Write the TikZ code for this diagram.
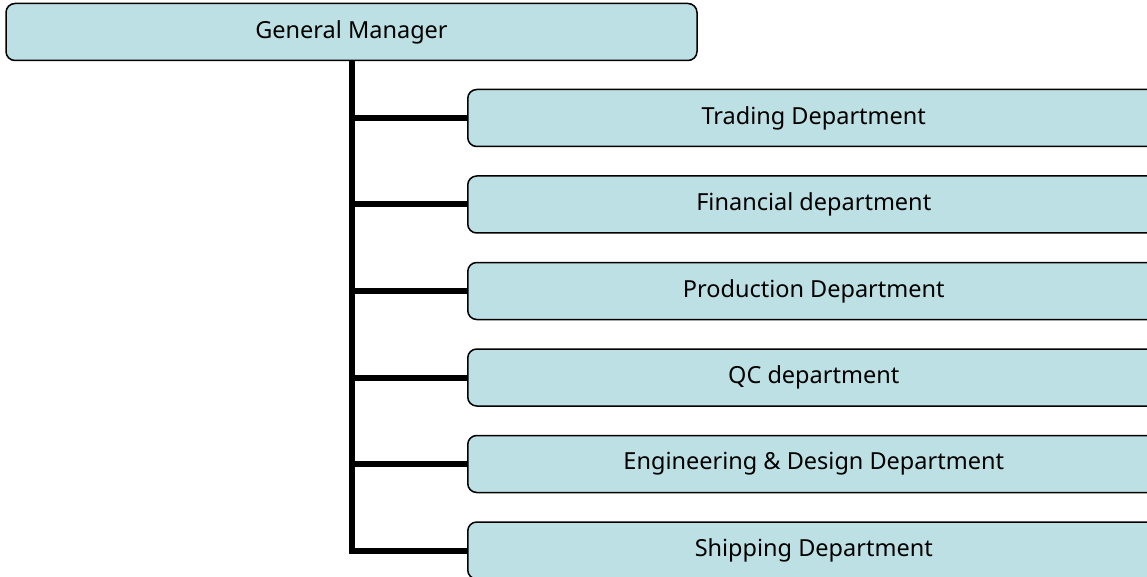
\documentclass[tikz,border=0pt]{standalone}
\usepackage{fontspec}
\setmainfont{Noto Sans}
\usetikzlibrary{positioning}

\definecolor{boxfill}{HTML}{BCE0E3}

\tikzset{
    unit/.style={draw=black, line width=1.5pt, fill=boxfill, rounded corners=9pt,
        minimum height=57pt, inner sep=0pt, font=\fontsize{23.5}{26}\selectfont},
    gmbox/.style={unit, minimum width=691pt},
    deptbox/.style={unit, minimum width=692pt},
    link/.style={line width=6pt}
}

\begin{document}
\begin{tikzpicture}[x=1pt, y=1pt]
    \useasboundingbox (0,0) rectangle (1147,-577);
    \clip (0,0) rectangle (1147,-577);

    \node[gmbox] (gm) at (351.5,-32) {General Manager};

    \node[deptbox, anchor=west] (trading) at (467,-118) {Trading Department};
    \node[deptbox, below=28pt of trading] (financial) {Financial department};
    \node[deptbox, below=28pt of financial] (production) {Production Department};
    \node[deptbox, below=28pt of production] (qc) {QC department};
    \node[deptbox, below=28pt of qc] (engineering) {Engineering \& Design Department};
    \node[deptbox, below=28pt of engineering] (shipping) {Shipping Department};

    % trunk down from the manager, then one branch per department
    \coordinate (top) at (352,0 |- gm.south);
    \draw[link] (top) |- (shipping.west);
    \foreach \d in {trading,financial,production,qc,engineering}
        \draw[link] (top |- \d.west) -- (\d.west);
\end{tikzpicture}
\end{document}
